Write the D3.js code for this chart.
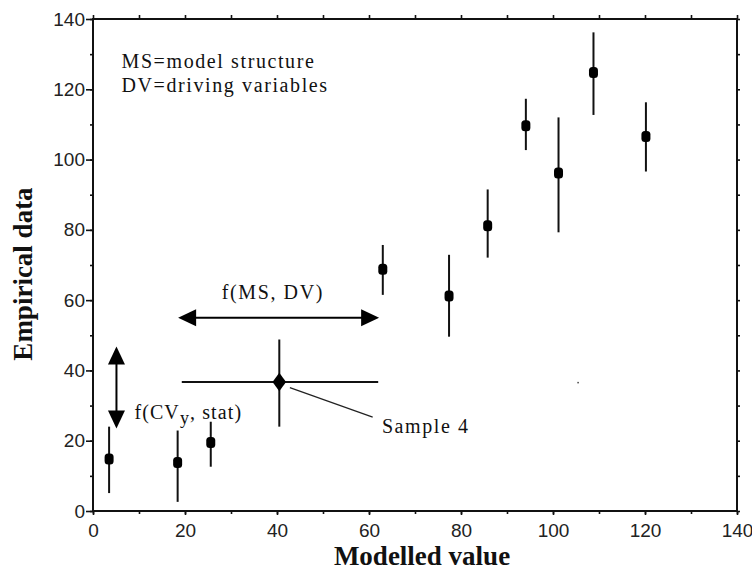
<!DOCTYPE html>
<html>
<head>
<meta charset="utf-8">
<script src="https://cdn.jsdelivr.net/npm/d3@7"></script>
<style>
  html, body { margin: 0; padding: 0; background: #fff; }
  svg { display: block; }
  .tick text { font-family: "Liberation Sans", Arial, sans-serif; font-size: 19px; fill: #222; }
  .ann { font-family: "Liberation Serif", "Times New Roman", serif; font-size: 20px; fill: #111; letter-spacing: 1.6px; }
  .title { font-family: "Liberation Serif", "Times New Roman", serif; font-size: 27px; font-weight: bold; fill: #111; }
</style>
</head>
<body>
<svg id="chart" width="752" height="574"></svg>
<script>
// Samples: modelled value vs. empirical data with vertical uncertainty bars
const modelled  = [3.5, 18.4, 25.6, 63.0, 77.4, 85.8, 94.1, 101.2, 108.8, 120.2];
const empirical = [14.8, 13.8, 19.5, 68.8, 61.2, 81.2, 109.6, 96.2, 124.8, 106.6];
const errLow    = [5.1, 2.6, 12.6, 61.5, 49.6, 72.1, 102.7, 79.3, 112.7, 96.6];
const errHigh   = [24.0, 22.9, 25.4, 75.7, 72.9, 91.5, 117.3, 112.0, 136.2, 116.3];

// Sample 4 with both horizontal (model) and vertical (data) ranges
const sample4X = [19.3, 40.5, 62.0];   // low, value, high
const sample4Y = [24.0, 36.7, 48.8];
const sample4Leader = [[42.8, 35.1], [60.8, 26.7]];
const strayDot = [[105.4, 36.6]];

// Uncertainty arrows
const msArrowX = [18.5, 62.2], msArrowY = 55;
const cvArrowY = [23.5, 46.8], cvArrowX = 5.1;

const majorTicks = [0, 20, 40, 60, 80, 100, 120, 140];
const minorTicks = d3.range(0, 141, 10);

const svg = d3.select("#chart");
const x = d3.scaleLinear().domain([0, 140]).range([93, 737]);
const y = d3.scaleLinear().domain([0, 140]).range([511, 19]);

const axisColor = "#111";

function styleAxis(g) {
  g.select(".domain").remove();
  g.selectAll(".tick line").attr("stroke", axisColor).attr("stroke-width", 1.6);
}

// Minor ticks on every side
svg.append("g").attr("transform", `translate(0,${y(0)})`)
  .call(d3.axisBottom(x).tickValues(minorTicks).tickSize(3).tickFormat(""))
  .call(styleAxis);
svg.append("g").attr("transform", `translate(0,${y(140)})`)
  .call(d3.axisTop(x).tickValues(minorTicks).tickSize(4).tickFormat(""))
  .call(styleAxis);
svg.append("g").attr("transform", `translate(${x(0)},0)`)
  .call(d3.axisLeft(y).tickValues(minorTicks).tickSize(3).tickFormat(""))
  .call(styleAxis);
svg.append("g").attr("transform", `translate(${x(140)},0)`)
  .call(d3.axisRight(y).tickValues(minorTicks).tickSize(3).tickFormat(""))
  .call(styleAxis);

// Major labelled ticks
svg.append("g").attr("transform", `translate(0,${y(0)})`)
  .call(d3.axisBottom(x).tickValues(majorTicks).tickSize(4).tickPadding(7).tickFormat(d3.format("d")))
  .call(styleAxis)
  .selectAll("text").attr("dy", "0.78em");
svg.append("g").attr("transform", `translate(${x(0)},0)`)
  .call(d3.axisLeft(y).tickValues(majorTicks).tickSize(7).tickPadding(1).tickFormat(d3.format("d")))
  .call(styleAxis);

// Frame
svg.append("rect")
  .attr("x", x(0)).attr("y", y(140))
  .attr("width", x(140) - x(0)).attr("height", y(0) - y(140))
  .attr("fill", "none").attr("stroke", axisColor).attr("stroke-width", 2);

// Error bars
const pts = modelled.map((m, i) => ({ m, e: empirical[i], lo: errLow[i], hi: errHigh[i] }));
svg.append("g").selectAll("line").data(pts).join("line")
  .attr("x1", d => x(d.m)).attr("x2", d => x(d.m))
  .attr("y1", d => y(d.lo)).attr("y2", d => y(d.hi))
  .attr("stroke", "#111").attr("stroke-width", 2);

// Markers (rounded blocks)
svg.append("g").selectAll("rect").data(pts).join("rect")
  .attr("x", d => x(d.m) - 4.5).attr("y", d => y(d.e) - 5.5)
  .attr("width", 9).attr("height", 11).attr("rx", 3.5).attr("ry", 3.5)
  .attr("fill", "#000");

// Sample 4 cross
svg.append("line")
  .attr("x1", x(sample4X[0])).attr("x2", x(sample4X[2]))
  .attr("y1", y(sample4Y[1])).attr("y2", y(sample4Y[1]))
  .attr("stroke", "#111").attr("stroke-width", 2);
svg.append("line")
  .attr("x1", x(sample4X[1])).attr("x2", x(sample4X[1]))
  .attr("y1", y(sample4Y[0])).attr("y2", y(sample4Y[2]))
  .attr("stroke", "#111").attr("stroke-width", 2);
svg.append("path")
  .attr("d", d3.symbol(d3.symbolDiamond, 120)())
  .attr("transform", `translate(${x(sample4X[1])},${y(sample4Y[1])}) scale(1.15,0.9)`)
  .attr("fill", "#000");
svg.append("line")
  .attr("x1", x(sample4Leader[0][0])).attr("y1", y(sample4Leader[0][1]))
  .attr("x2", x(sample4Leader[1][0])).attr("y2", y(sample4Leader[1][1]))
  .attr("stroke", "#222").attr("stroke-width", 1.2);

svg.append("g").selectAll("rect").data(strayDot).join("rect")
  .attr("x", d => x(d[0]) - 0.5).attr("y", d => y(d[1]) - 0.5)
  .attr("width", 1.5).attr("height", 1.5).attr("fill", "#444");

// Double-headed arrows
const headLen = 18, headHalf = 8.5;
function hArrow(x0, x1, yy) {
  svg.append("line").attr("x1", x0 + headLen - 2).attr("x2", x1 - headLen + 2)
    .attr("y1", yy).attr("y2", yy).attr("stroke", "#000").attr("stroke-width", 2);
  svg.append("path").attr("fill", "#000")
    .attr("d", `M${x0},${yy}L${x0 + headLen},${yy - headHalf}L${x0 + headLen},${yy + headHalf}Z`);
  svg.append("path").attr("fill", "#000")
    .attr("d", `M${x1},${yy}L${x1 - headLen},${yy - headHalf}L${x1 - headLen},${yy + headHalf}Z`);
}
function vArrow(xx, yTop, yBot) {
  svg.append("line").attr("x1", xx).attr("x2", xx)
    .attr("y1", yTop + headLen - 2).attr("y2", yBot - headLen + 2)
    .attr("stroke", "#000").attr("stroke-width", 2);
  svg.append("path").attr("fill", "#000")
    .attr("d", `M${xx},${yTop}L${xx - headHalf},${yTop + headLen}L${xx + headHalf},${yTop + headLen}Z`);
  svg.append("path").attr("fill", "#000")
    .attr("d", `M${xx},${yBot}L${xx - headHalf},${yBot - headLen}L${xx + headHalf},${yBot - headLen}Z`);
}
hArrow(x(msArrowX[0]), x(msArrowX[1]), y(msArrowY));
vArrow(x(cvArrowX), y(cvArrowY[1]), y(cvArrowY[0]));

// Annotations
svg.append("text").attr("class", "ann").attr("x", x(6.2)).attr("y", y(126.1)).text("MS=model structure");
svg.append("text").attr("class", "ann").attr("x", x(6.2)).attr("y", y(119.2)).text("DV=driving variables");
svg.append("text").attr("class", "ann").attr("x", x(28.0)).attr("y", y(60.3)).text("f(MS, DV)");
const cv = svg.append("text").attr("class", "ann").attr("x", x(9.0)).attr("y", y(26.2)).style("letter-spacing", "1.1px");
cv.append("tspan").text("f(CV");
cv.append("tspan").attr("dy", 5).style("font-size", "18px").text("y");
cv.append("tspan").attr("dy", -5).text(", stat)");
svg.append("text").attr("class", "ann").attr("x", x(62.8)).attr("y", y(22.1)).text("Sample 4");

// Axis titles
svg.append("text").attr("class", "title")
  .attr("x", 422).attr("y", 565).attr("text-anchor", "middle").text("Modelled value");
svg.append("text").attr("class", "title")
  .attr("transform", "translate(32,274) rotate(-90)").attr("text-anchor", "middle").text("Empirical data");
</script>
</body>
</html>
